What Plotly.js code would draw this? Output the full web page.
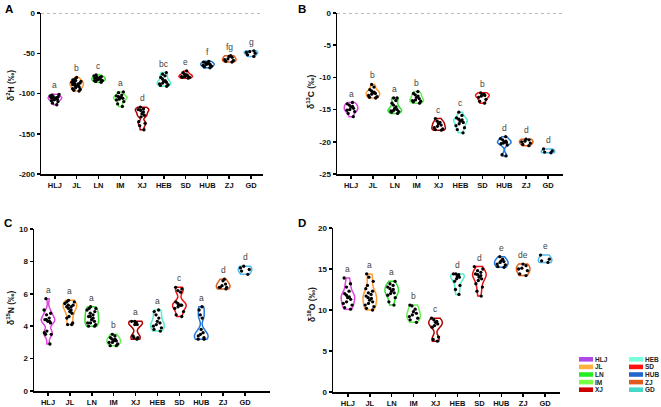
<!DOCTYPE html>
<html><head><meta charset="utf-8">
<script src="https://cdn.plot.ly/plotly-3.0.1.min.js"></script>
<style>html,body{margin:0;padding:0;background:#fff}</style>
</head><body><div id="chart" style="width:661px;height:407px"></div>
<script>
// ---------- DATA ----------
const categories = ['HLJ','JL','LN','IM','XJ','HEB','SD','HUB','ZJ','GD'];

const d2H = [
  [-101,-102,-103,-104,-104,-105,-105,-106,-106,-107,-107,-108,-109,-110,-112,-114],
  [-80,-82,-83,-84,-85,-86,-86,-87,-88,-88,-89,-90,-90,-91,-92,-93,-94,-95,-96,-97],
  [-77,-78,-79,-80,-80,-81,-81,-82,-82,-83,-83,-84,-84,-85,-86],
  [-98,-99,-102,-103,-104,-105,-105,-106,-107,-108,-110,-113,-116],
  [-117,-119,-120,-121,-123,-125,-127,-129,-135,-137,-140,-145],
  [-74,-76,-78,-80,-82,-84,-85,-86,-87,-88,-89,-90,-91],
  [-72,-74,-76,-77,-78,-78,-79,-79,-80,-80,-81],
  [-60,-61,-62,-63,-63,-64,-64,-65,-66,-67,-68],
  [-53,-54,-55,-57,-58,-59,-60,-61],
  [-47,-48,-49,-50,-52,-54]
];
const d13C = [
  [-13.9,-14.1,-14.3,-14.5,-14.6,-14.8,-15.0,-15.1,-15.3,-15.6,-16.1],
  [-11.1,-11.5,-11.9,-12.1,-12.3,-12.4,-12.5,-12.6,-12.8,-13.0,-13.1,-13.2],
  [-13.2,-13.2,-13.6,-14.0,-14.3,-14.6,-14.8,-15.0,-15.1,-15.2,-15.3,-15.4,-15.6],
  [-12.2,-12.5,-12.7,-12.9,-13.1,-13.3,-13.5,-13.6,-13.7,-13.8,-14.0],
  [-16.4,-16.8,-17.0,-17.2,-17.4,-17.6,-17.8,-18.0,-18.1,-18.2],
  [-15.4,-15.9,-16.3,-16.5,-16.6,-16.8,-17.0,-17.2,-17.5,-17.8,-18.1,-18.6],
  [-12.4,-12.6,-12.7,-12.8,-12.9,-13.1,-13.4,-13.7,-14.0],
  [-19.2,-19.5,-19.7,-19.9,-20.0,-20.1,-20.2,-20.3,-20.5,-22.0,-22.2],
  [-19.6,-19.7,-19.9,-20.0,-20.2,-20.4,-20.6],
  [-21.1,-21.4,-21.6,-21.7]
];
const d15N = [
  [5.7,5.0,4.8,4.7,4.5,4.4,4.4,4.3,4.3,4.2,3.7,3.6,3.5,3.5,2.9],
  [5.6,5.5,5.5,5.4,5.3,5.3,5.2,5.2,5.1,5.0,4.9,4.8,4.6,4.5,4.2,4.1,4.1],
  [5.2,5.1,5.1,5.0,4.9,4.8,4.7,4.6,4.6,4.5,4.4,4.3,4.2,4.2,4.1,4.0,4.0],
  [3.5,3.4,3.3,3.2,3.2,3.1,3.1,3.0,3.0,2.9,2.8,2.8],
  [4.3,4.3,4.2,4.2,4.1,4.1,3.4,3.3,3.3,3.2],
  [5.0,4.9,4.7,4.5,4.3,4.2,4.1,4.0,3.9,3.8,3.7],
  [6.4,6.3,6.2,6.1,5.5,5.4,5.3,5.3,5.3,5.2,5.1,4.9,4.7,4.6],
  [5.2,5.0,4.7,4.5,3.8,3.6,3.5,3.4,3.3,3.2,3.2],
  [6.9,6.8,6.6,6.5,6.4,6.4,6.4,6.3],
  [7.7,7.6,7.5,7.4,7.2]
];
const d18O = [
  [13.9,13.2,12.8,12.3,12.0,11.8,11.6,11.5,11.3,11.0,10.8,10.6,10.3,10.1],
  [14.4,14.0,13.5,13.0,12.6,12.3,12.1,11.9,11.7,11.5,11.4,11.2,11.0,10.8,10.6,10.4,10.2,10.0],
  [13.5,13.2,13.0,12.8,12.6,12.5,12.3,12.1,12.0,11.8,11.5,11.0,10.6],
  [10.6,10.5,10.1,9.8,9.6,9.4,9.2,9.0,8.8,8.5],
  [9.0,8.8,8.6,8.5,8.3,8.1,7.9,6.7,6.4,6.2],
  [14.4,14.4,14.3,14.1,14.0,13.8,13.5,13.0,12.5,11.9],
  [15.3,15.0,14.8,14.6,14.4,14.3,14.2,14.0,13.8,13.6,13.2,12.8,12.3,11.7],
  [16.5,16.2,16.0,15.9,15.8,15.6,15.5,15.3,15.2],
  [15.6,15.4,15.1,15.0,14.8,14.4,14.2],
  [16.7,16.2,16.0,15.8]
];

const lettersH = ['a','b','c','a','d','bc','e','f','fg','g'];
const lettersC = ['a','b','a','b','c','c','b','d','d','d'];
const lettersN = ['a','a','a','b','a','a','c','a','d','d'];
const lettersO = ['a','a','a','b','c','d','d','e','de','e'];

const ticksH = [0,-50,-100,-150,-200];
const tickTextH = ['0','-50','-100','-150','-200'];
const ticksC = [0,-5,-10,-15,-20,-25];
const tickTextC = ['0','-5','-10','-15','-20','-25'];
const ticksN = [0,2,4,6,8,10];
const ticksO = [0,5,10,15,20];

// ---------- STYLE ----------
const lineColors = ['#dd44dd','#ff9a30','#33dd33','#66ee55','#b00000','#55eecc','#ee1111','#2277dd','#e06020','#55bbee'];
const swatchColors = ['#b048e8','#ffb040','#22ee22','#77ff44','#cc0000','#77ffdd','#ff1111','#2266cc','#e05a20','#44d8c8'];

const W = 661, H = 407;
const px = v => v / W;
const py = v => 1 - v / H;

const panels = [
  {data:d2H, letters:lettersH, xa:'x',  ya:'y',  bw:2.2, title:'δ<sup>2</sup>H (‰)',  label:'A',
   xdom:[41,263], ydom:[13,174], xr:[-0.64,9.55], yr:[-200,0], tv:ticksH, tt:tickTextH, dotted:true,
   tx:11, ty:86, lx:9, ly:9},
  {data:d13C, letters:lettersC, xa:'x2', ya:'y2', bw:0.32, title:'δ<sup>13</sup>C (‰)', label:'B',
   xdom:[337,563], ydom:[13,174], xr:[-0.64,9.68], yr:[-25,0], tv:ticksC, tt:tickTextC, dotted:true,
   tx:311, ty:92, lx:302, ly:9},
  {data:d15N, letters:lettersN, xa:'x3', ya:'y3', bw:0.22, title:'δ<sup>15</sup>N (‰)', label:'C',
   xdom:[34,270], ydom:[229,391], xr:[-0.64,10.14], yr:[0,10], tv:ticksN, tt:ticksN.map(String), dotted:false,
   tx:10, ty:308, lx:8, ly:223},
  {data:d18O, letters:lettersO, xa:'x4', ya:'y4', bw:0.42, title:'δ<sup>18</sup>O (‰)', label:'D',
   xdom:[333,560], ydom:[228,392], xr:[-0.68,9.68], yr:[0,20], tv:ticksO, tt:ticksO.map(String), dotted:false,
   tx:311, ty:305, lx:302, ly:223}
];

const FONT = 'Liberation Sans, Arial, sans-serif';
const traces = [];
const annotations = [];
const shapes = [];
const layout = {
  width: W, height: H, autosize: false,
  margin: {l:0, r:0, t:0, b:0},
  paper_bgcolor: '#fff', plot_bgcolor: 'rgba(0,0,0,0)',
  showlegend: false,
  violinmode: 'overlay',
  font: {family: FONT, color: '#000'}
};

panels.forEach((p, pi) => {
  const sx = pi === 0 ? '' : String(pi + 1);
  layout['xaxis' + sx] = {
    domain: [px(p.xdom[0]), px(p.xdom[1])], anchor: p.ya, range: p.xr,
    type: 'category', categoryorder: 'array', categoryarray: categories,
    showline: true, linecolor: '#000', linewidth: 1.5, mirror: false,
    ticks: 'outside', ticklen: 3, tickwidth: 1.5, tickcolor: '#000',
    showgrid: false, zeroline: false,
    tickfont: {family: FONT, size: 7.5, weight: 'bold', color: '#111'}
  };
  layout['yaxis' + sx] = {
    domain: [py(p.ydom[1]), py(p.ydom[0])], anchor: p.xa, range: p.yr,
    tickvals: p.tv, ticktext: p.tt,
    showline: true, linecolor: '#000', linewidth: 1.5,
    ticks: 'outside', ticklen: 3, tickwidth: 1.5, tickcolor: '#000',
    showgrid: false, zeroline: false,
    tickfont: {family: FONT, size: 8, weight: 'bold', color: '#111'}
  };
  categories.forEach((c, ci) => {
    const vals = p.data[ci];
    traces.push({
      type: 'violin', x: vals.map(() => c), y: vals,
      xaxis: p.xa, yaxis: p.ya, name: c, showlegend: false,
      points: 'all', pointpos: 0, jitter: 0.8,
      spanmode: 'hard', bandwidth: p.bw,
      scalemode: 'width', width: 0.62,
      line: {color: lineColors[ci], width: 1.5},
      fillcolor: 'white',
      marker: {color: '#000', size: 3.3, line: {width: 0}},
      box: {visible: false}, meanline: {visible: false},
      hoveron: 'points'
    });
    annotations.push({
      x: c, y: Math.max(...vals), xref: p.xa, yref: p.ya,
      text: p.letters[ci], showarrow: false, yanchor: 'bottom', yshift: 2,
      font: {family: FONT, size: 8.5, color: '#444'}
    });
  });
  if (p.dotted) {
    shapes.push({type: 'line', xref: p.xa + ' domain', x0: 0, x1: 1, yref: p.ya, y0: 0, y1: 0,
      line: {color: '#777', width: 1, dash: 'dot'}});
  }
  annotations.push({
    xref: 'paper', yref: 'paper', x: px(p.tx), y: py(p.ty), text: p.title, textangle: -90,
    showarrow: false, xanchor: 'center', yanchor: 'middle',
    font: {family: FONT, size: 8.5, weight: 'bold', color: '#111'}
  });
  annotations.push({
    xref: 'paper', yref: 'paper', x: px(p.lx), y: py(p.ly), text: p.label,
    showarrow: false, xanchor: 'center', yanchor: 'middle',
    font: {family: FONT, size: 11.5, weight: 'bold', color: '#000'}
  });
});

// manual compact legend
categories.forEach((c, ci) => {
  const col = ci < 5 ? 0 : 1, row = ci % 5;
  const x0 = [579, 629][col];
  const yc = 359.3 + row * 7.6;
  shapes.push({type: 'rect', xref: 'paper', yref: 'paper',
    x0: px(x0), x1: px(x0 + 14), y0: py(yc + 2.3), y1: py(yc - 2.3),
    fillcolor: swatchColors[ci], line: {width: 0}});
  annotations.push({xref: 'paper', yref: 'paper', x: px(x0 + 15), y: py(yc), text: c,
    showarrow: false, xanchor: 'left', yanchor: 'middle', borderpad: 0,
    font: {family: FONT, size: 6.5, weight: 'bold', color: '#222'}});
});

layout.annotations = annotations;
layout.shapes = shapes;

Plotly.newPlot('chart', traces, layout, {staticPlot: true, displayModeBar: false});
</script>
</body></html>
